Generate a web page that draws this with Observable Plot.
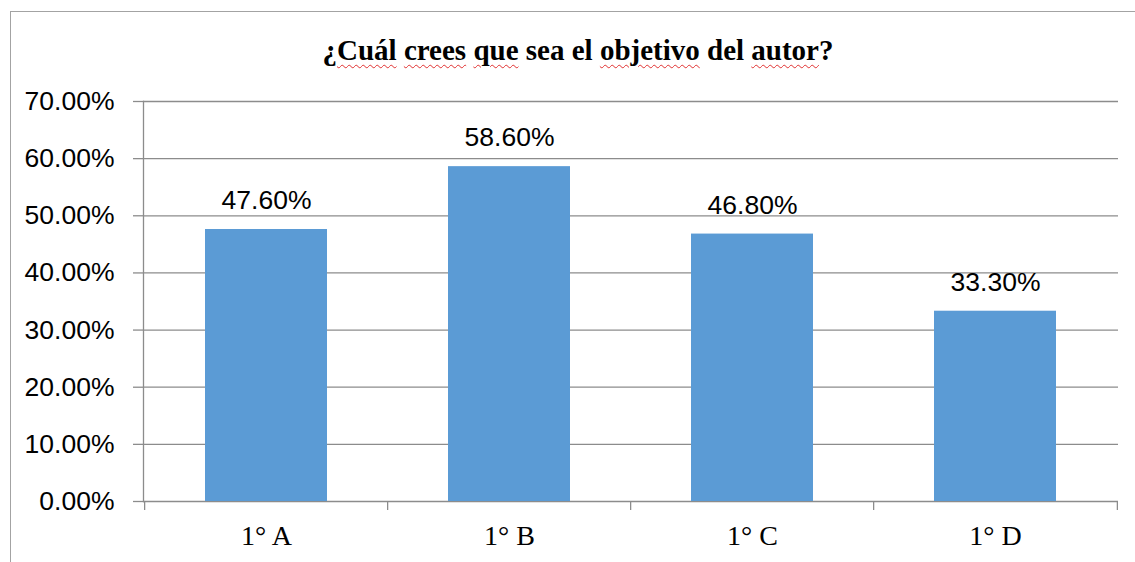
<!DOCTYPE html>
<html>
<head>
<meta charset="utf-8">
<script src="https://cdn.jsdelivr.net/npm/d3@7"></script>
<script src="https://cdn.jsdelivr.net/npm/@observablehq/plot@0.6"></script>
<style>
  html, body { margin: 0; padding: 0; background: #fff; overflow: hidden; }
  #wrap { position: relative; width: 1135px; height: 562px; overflow: hidden; }
  #border { position: absolute; left: 10px; top: 11px; width: 1200px; height: 700px; border: 1.5px solid #a3a3a3; box-sizing: border-box; }
  #title { position: absolute; left: 0; top: 0; width: 1156px; height: 80px; line-height: 100px; text-align: center;
           font-family: "Liberation Serif", "Times New Roman", serif; font-weight: bold; font-size: 29px; color: #000; }
  #title .sp { text-decoration: underline wavy #e03030; text-decoration-thickness: 1px; text-underline-offset: 4px; }
  #chart { position: absolute; left: 0; top: 80px; }
</style>
</head>
<body>
<div id="wrap">
  <div id="border"></div>
  <div id="title">¿<span class="sp">Cuál</span> <span class="sp">crees</span> <span class="sp">que</span> sea el <span class="sp">objetivo</span> del <span class="sp">autor</span>?</div>
  <div id="chart"></div>
</div>
<script>
const categories = ["1° A", "1° B", "1° C", "1° D"];
const values = [0.476, 0.586, 0.468, 0.333];
const yTicks = [0, 0.1, 0.2, 0.3, 0.4, 0.5, 0.6, 0.7];

const data = categories.map((c, i) => ({category: c, value: values[i]}));

const width = 1135, height = 482;
const marginLeft = 143, marginRight = 17, marginTop = 21, marginBottom = 61;
const bandStep = (width - marginLeft - marginRight) / categories.length;
const sans = "'Liberation Sans', Arial, sans-serif";
const serif = "'Liberation Serif', 'Times New Roman', serif";
const gridColor = "#8c8c8c";

const chart = Plot.plot({
  width, height, marginLeft, marginRight, marginTop, marginBottom,
  style: {background: "transparent", color: "#000"},
  x: {type: "band", domain: categories, padding: 0.5, align: 0.5, paddingOuter: 0.25},
  y: {domain: [0, 0.7]},
  marks: [
    Plot.ruleY(yTicks, {stroke: gridColor, strokeWidth: 1.3}),
    Plot.barY(data, {x: "category", y: "value", fill: "#5B9BD5"}),
    Plot.axisY({ticks: yTicks, tickFormat: d3.format(".2%"), tickSize: 10, tickPadding: 19,
                fontSize: 26.5, fontFamily: sans, stroke: gridColor, strokeWidth: 1.3, label: null, fill: "#000"}),
    Plot.frame({anchor: "left", stroke: gridColor, strokeWidth: 1.3}),
    Plot.ruleX(categories, {x: d => d, dx: -bandStep / 2, y1: 0, y2: 0, insetBottom: -9, stroke: gridColor, strokeWidth: 1.3}),
    Plot.ruleX(categories.slice(-1), {x: d => d, dx: bandStep / 2, y1: 0, y2: 0, insetBottom: -9, stroke: gridColor, strokeWidth: 1.3}),
    Plot.axisX({tickSize: 0, tickPadding: 24, fontSize: 28, fontFamily: serif, label: null, fill: "#000"}),
    Plot.text(data, {x: "category", y: "value", text: d => d3.format(".2%")(d.value), dy: -29,
                     fontSize: 26.5, fontFamily: sans, fill: "#000"})
  ]
});
document.getElementById("chart").appendChild(chart);
</script>
</body>
</html>
